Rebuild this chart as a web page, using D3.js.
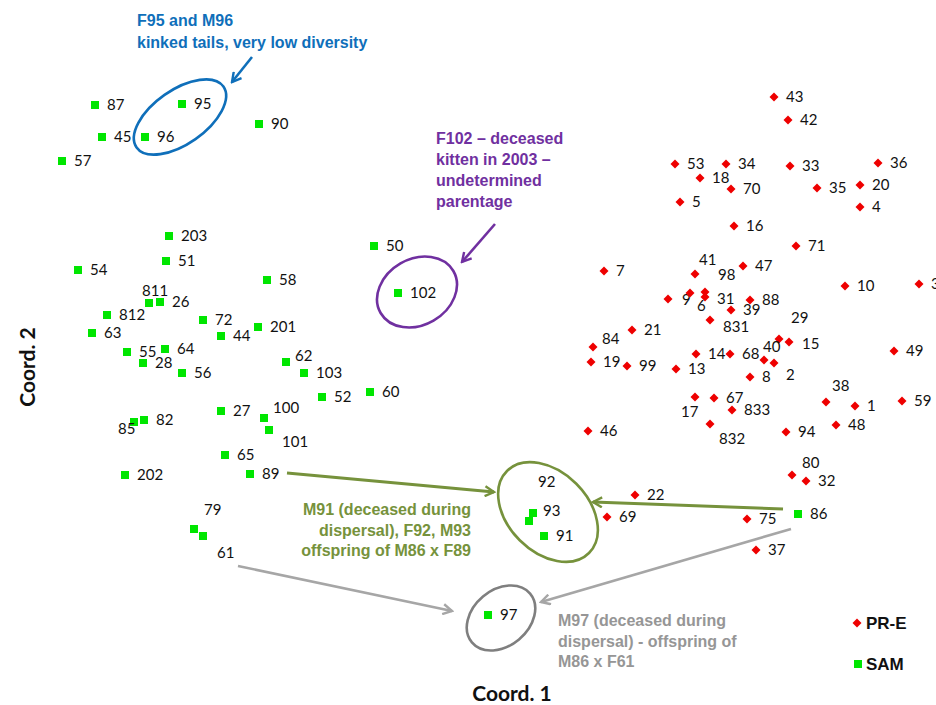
<!DOCTYPE html>
<html>
<head>
<meta charset="utf-8">
<script src="https://cdn.jsdelivr.net/npm/d3@7"></script>
<style>
  html, body { margin: 0; padding: 0; background: #fff; }
  #graph { width: 936px; height: 705px; overflow: hidden; }
  .lbl { font-family: Lato, "Open Sans", sans-serif; font-size: 15px; fill: #111; }
  .note { font-family: "Liberation Sans", Arial, sans-serif; font-size: 16px; font-weight: bold; }
  .axis-title { font-family: Lato, sans-serif; font-size: 21px; font-weight: bold; fill: #111; }
</style>
</head>
<body>
<div id="graph"></div>
<script>
// SAM population (green squares)
const samIds = ['87','95','90','45','96','57','203','51','54','50','58','102','811','26','812','72','201','63','44','55','64','28','56','62','103','52','60','27','100','101','85','82','65','202','89','79','61','93','92','91','97','86'];
const samX = [-3.75,-2.88,-2.11,-3.68,-3.25,-4.08,-3.01,-3.04,-3.92,-0.96,-2.03,-0.72,-3.21,-3.10,-3.63,-2.67,-2.12,-3.78,-2.49,-3.43,-3.05,-3.27,-2.88,-1.84,-1.66,-1.48,-1.00,-2.49,-2.06,-2.01,-3.36,-3.26,-2.45,-3.45,-2.20,-2.76,-2.67,0.63,0.59,0.74,0.18,3.28];
const samY = [2.35,2.36,2.16,2.03,2.03,1.79,1.04,0.79,0.70,0.94,0.60,0.47,0.37,0.38,0.25,0.20,0.13,0.07,0.04,-0.12,-0.09,-0.23,-0.33,-0.22,-0.33,-0.57,-0.52,-0.71,-0.78,-0.90,-0.82,-0.80,-1.15,-1.35,-1.34,-1.89,-1.96,-1.73,-1.81,-1.96,-2.75,-1.74];

// PR-E population (red diamonds)
const preIds = ['43','42','53','34','33','36','18','70','35','20','5','4','16','71','7','41','47','10','30','9','98','31','6','88','39','831','21','84','19','99','13','14','68','29','15','40','2','8','49','38','1','59','48','94','17','67','833','832','46','80','32','22','69','75','37'];
const preX = [3.04,3.18,2.05,2.56,3.20,4.08,2.30,2.61,3.47,3.90,2.10,3.90,2.64,3.26,1.34,2.25,2.73,3.75,4.49,1.98,2.20,2.35,2.35,2.80,2.61,2.40,1.62,1.23,1.21,1.57,2.06,2.26,2.60,3.09,3.19,2.94,3.04,2.80,4.24,3.56,3.85,4.32,3.66,3.16,2.25,2.44,2.62,2.40,1.18,3.22,3.36,1.65,1.37,2.77,2.86];
const preY = [2.43,2.20,1.76,1.76,1.74,1.77,1.62,1.51,1.52,1.55,1.38,1.33,1.14,0.94,0.69,0.66,0.74,0.54,0.56,0.41,0.47,0.48,0.43,0.40,0.30,0.20,0.10,-0.07,-0.22,-0.26,-0.29,-0.14,-0.14,0.01,-0.02,-0.20,-0.23,-0.37,-0.11,-0.62,-0.66,-0.61,-0.85,-0.92,-0.57,-0.58,-0.70,-0.84,-0.91,-1.35,-1.41,-1.55,-1.77,-1.79,-2.10];

const seriesNames = ['PR-E', 'SAM'];
const axisTitles = ['Coord. 1', 'Coord. 2'];

const noteBlue = ['F95 and M96', 'kinked tails, very low diversity'];
const notePurple = ['F102 \u2013 deceased', 'kitten in 2003 \u2013', 'undetermined', 'parentage'];
const noteGreen = ['M91 (deceased during', 'dispersal), F92, M93', 'offspring of M86 x F89'];
const noteGray = ['M97 (deceased during', 'dispersal) - offspring of', 'M86 x F61'];

// labels that sit away from the default right-hand spot
const nudge = {
  '811': [-7, -7], '85': [-16, 12], '62': [9, -1], '100': [9, -5], '101': [13, 17],
  '79': [10, -14], '61': [14, 22], '92': [9, -34], '93': [10, 3],
  '41': [4, -9], '98': [28, -13], '9': [14, 6], '6': [-8, 14], '31': [12, 12],
  '831': [13, 12], '84': [9, -3], '29': [12, -16], '15': [13, 7], '40': [-1, -8],
  '2': [12, 17], '38': [6, -11], '17': [-14, 20], '832': [9, 20], '80': [10, -7]
};

class CoordPlot {
    constructor() {
        this.div = document.getElementById('graph');
        this.width = 936;
        this.height = 705;

        this.svg = d3.select('#graph').append('svg')
                    .attr('width', this.width)
                    .attr('height', this.height);

        this.x = d3.scaleLinear().domain([-4.7, 4.66]).range([0, 936]);
        this.y = d3.scaleLinear().domain([3.4, -3.65]).range([0, 705]);

        this.defs = this.svg.append('defs');
        this.notes = this.svg.append('g').attr('class', 'notes');
        this.points = this.svg.append('g').attr('class', 'points');
    }

    arrowHead(id, color) {
        this.defs.append('marker')
            .attr('id', id)
            .attr('viewBox', '0 0 12 12')
            .attr('refX', 10).attr('refY', 6)
            .attr('markerWidth', 12).attr('markerHeight', 12)
            .attr('markerUnits', 'userSpaceOnUse')
            .attr('orient', 'auto')
          .append('path')
            .attr('d', 'M1,1 L10,6 L1,11')
            .attr('fill', 'none')
            .attr('stroke', color)
            .attr('stroke-width', 2.4);
    }

    arrow(x1, y1, x2, y2, color, id, w) {
        this.notes.append('line')
            .attr('x1', x1).attr('y1', y1).attr('x2', x2).attr('y2', y2)
            .attr('stroke', color).attr('stroke-width', w)
            .attr('marker-end', 'url(#' + id + ')');
    }

    ellipse(cx, cy, rx, ry, rot, color) {
        this.notes.append('ellipse')
            .attr('cx', 0).attr('cy', 0).attr('rx', rx).attr('ry', ry)
            .attr('transform', 'translate(' + cx + ',' + cy + ') rotate(' + rot + ')')
            .attr('fill', 'none').attr('stroke', color).attr('stroke-width', 2.6);
    }

    note(lines, x, y, step, color, anchor) {
        const t = this.notes.append('text').attr('class', 'note')
            .attr('fill', color).attr('text-anchor', anchor || 'start');
        lines.forEach((s, i) => {
            t.append('tspan').attr('x', x).attr('y', y + i * step).text(s);
        });
    }

    drawNotes() {
        const blue = '#0f6fba', purple = '#7030a0', green = '#76923c', gray = '#a6a6a6';
        this.arrowHead('ahBlue', blue);
        this.arrowHead('ahPurple', purple);
        this.arrowHead('ahGreen', green);
        this.arrowHead('ahGray', gray);

        this.note(noteBlue, 137, 26, 22, blue);
        this.arrow(252, 57, 232, 82, blue, 'ahBlue', 2.6);
        this.ellipse(180, 117, 53, 27, -35, blue);

        this.note(notePurple, 436, 144, 21, purple);
        this.arrow(495, 224, 462, 262, purple, 'ahPurple', 2.6);
        this.ellipse(417, 292, 42, 33, -30, purple);

        this.note(noteGreen, 471, 515, 20.5, green, 'end');
        this.arrow(287, 473, 494, 492, green, 'ahGreen', 3);
        this.arrow(783, 509, 593, 502, green, 'ahGreen', 3);
        this.ellipse(548, 512, 58, 40, 45, green);

        this.note(noteGray, 558, 626, 20.5, '#969696');
        this.arrow(238, 566, 452, 611, gray, 'ahGray', 2.6);
        this.arrow(791, 529, 541, 602, gray, 'ahGray', 2.6);
        this.ellipse(501, 618, 38, 28, -40, '#7f7f7f');
    }

    drawPoints(ids, xs, ys, kind) {
        const data = ids.map((id, i) => ({ id: id, cx: xs[i], cy: ys[i] }));
        const g = this.points.append('g').attr('class', kind);
        const nodes = g.selectAll('.node-group').data(data).enter().append('g')
            .attr('class', 'node-group')
            .attr('transform', d => 'translate(' + this.x(d.cx) + ',' + this.y(d.cy) + ')');

        if (kind === 'sam') {
            nodes.append('rect')
                .attr('x', -4).attr('y', -4).attr('width', 8).attr('height', 8)
                .attr('fill', '#00e600');
        } else {
            nodes.append('rect')
                .attr('x', -3.2).attr('y', -3.2).attr('width', 6.4).attr('height', 6.4)
                .attr('transform', 'rotate(45)')
                .attr('fill', '#ee0000');
        }

        nodes.append('text').attr('class', 'lbl')
            .attr('x', d => (nudge[d.id] || [12, 5])[0])
            .attr('y', d => (nudge[d.id] || [12, 5])[1])
            .text(d => d.id);
    }

    drawLegend() {
        const lg = this.svg.append('g').attr('class', 'legend');
        lg.append('rect')
            .attr('x', -3.2).attr('y', -3.2).attr('width', 6.4).attr('height', 6.4)
            .attr('transform', 'translate(857,623) rotate(45)')
            .attr('fill', '#ee0000');
        lg.append('rect')
            .attr('x', 854).attr('y', 660).attr('width', 8).attr('height', 8)
            .attr('fill', '#00e600');
        lg.selectAll('text.leg').data(seriesNames).enter().append('text')
            .attr('class', 'note leg')
            .attr('x', 866)
            .attr('y', (d, i) => 629 + i * 41)
            .attr('fill', '#111')
            .style('font-size', '17px')
            .text(d => d);
    }

    drawTitles() {
        this.svg.append('text').attr('class', 'axis-title')
            .attr('x', 512).attr('y', 701).attr('text-anchor', 'middle')
            .text(axisTitles[0]);
        this.svg.append('text').attr('class', 'axis-title')
            .attr('transform', 'translate(35,367) rotate(-90)')
            .attr('text-anchor', 'middle')
            .text(axisTitles[1]);
    }
}

const plot = new CoordPlot();
plot.drawNotes();
plot.drawPoints(samIds, samX, samY, 'sam');
plot.drawPoints(preIds, preX, preY, 'pre');
plot.drawLegend();
plot.drawTitles();
</script>
</body>
</html>
